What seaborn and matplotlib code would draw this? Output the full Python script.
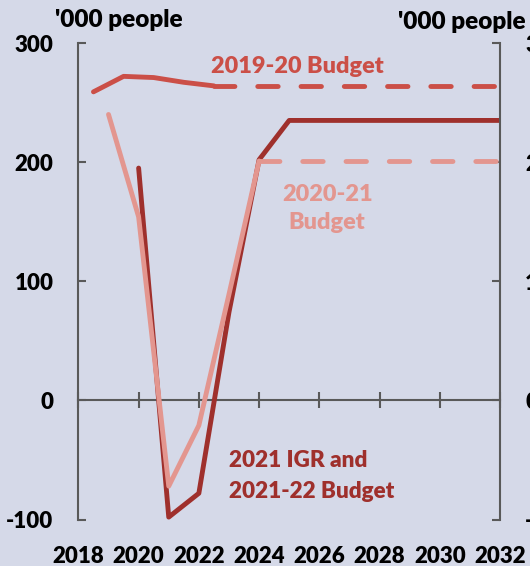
import matplotlib
matplotlib.use("Agg")
import matplotlib.pyplot as plt
import seaborn as sns

# Net overseas migration forecasts, '000 people
budget_1920_years = [2018.5, 2019.5, 2020.5, 2021.5, 2022.5]
budget_1920_values = [259, 272, 271, 267, 264]
budget_1920_proj_years = [2022.5, 2032]
budget_1920_proj_values = [264, 264]

budget_2021_years = [2019, 2020, 2021, 2022, 2023, 2024]
budget_2021_values = [240, 154, -72, -21, 89, 201]
budget_2021_proj_years = [2024, 2032]
budget_2021_proj_values = [201, 201]

igr_years = [2020, 2021, 2022, 2023, 2024, 2025, 2032]
igr_values = [195, -98, -78, 74, 202, 235, 235]

x_ticks = [2018, 2020, 2022, 2024, 2026, 2028, 2030, 2032]
y_ticks = [-100, 0, 100, 200, 300]

label_1920 = "2019-20 Budget"
label_2021 = "2020-21\nBudget"
label_igr = "2021 IGR and\n2021-22 Budget"
unit_label = "'000 people"

bg = "#d5d9e8"
c_1920 = "#cb4f47"
c_2021 = "#e3968f"
c_igr = "#9f302c"
axis_grey = "#595959"

sns.set_style("white", {"axes.facecolor": bg, "figure.facecolor": bg})
plt.rcParams["font.family"] = ["Lato", "DejaVu Sans"]
plt.rcParams["font.weight"] = "heavy"
plt.rcParams["axes.unicode_minus"] = False

fig = plt.figure(figsize=(5.3, 5.66), dpi=100)
ax = fig.add_axes([78.4 / 530, 46.5 / 566, (500 - 78.4) / 530, 476.5 / 566])

lw = 3.5
dash = (0, (4.2, 4.7))
common = dict(ax=ax, lw=lw, solid_capstyle="round", dash_capstyle="round")

sns.lineplot(x=budget_1920_years, y=budget_1920_values, color=c_1920, **common)
sns.lineplot(x=budget_1920_proj_years, y=budget_1920_proj_values, color=c_1920,
             linestyle=dash, **common)
sns.lineplot(x=igr_years, y=igr_values, color=c_igr, **common)
sns.lineplot(x=budget_2021_years, y=budget_2021_values, color=c_2021, **common)
sns.lineplot(x=budget_2021_proj_years, y=budget_2021_proj_values, color=c_2021,
             linestyle=dash, **common)

ax.set_xlim(2018, 2032)
ax.set_ylim(-100, 300)
ax.set_xticks(x_ticks)
ax.set_yticks(y_ticks)
ax.set_xlabel("")
ax.set_ylabel("")

for side in ("top", "bottom"):
    ax.spines[side].set_visible(False)
for side in ("left", "right"):
    ax.spines[side].set_visible(True)
    ax.spines[side].set_color(axis_grey)
    ax.spines[side].set_linewidth(1.5)

tick_font = 16
ax.tick_params(axis="x", length=0, pad=19, labelsize=tick_font, labelcolor="black")
ax.tick_params(axis="y", direction="in", length=6, width=1.5, color=axis_grey,
               left=True, right=True, labelleft=True, labelright=True,
               pad=18, labelsize=tick_font, labelcolor="black")

# zero line with crossing year ticks
zero_axis = ax.secondary_xaxis(0.25)
zero_axis.set_xticks(x_ticks)
zero_axis.tick_params(direction="inout", length=11, width=1.5, color=axis_grey,
                      labelbottom=False)
zero_axis.spines["bottom"].set_color(axis_grey)
zero_axis.spines["bottom"].set_linewidth(1.5)

ax.text(2025.28, 280, label_1920, ha="center", va="center", color=c_1920,
        fontsize=16.8, fontweight="heavy")
ax.text(2026.26, 161, label_2021, ha="center", va="center", color=c_2021,
        linespacing=1.42, fontsize=16.8, fontweight="heavy")
ax.text(2023.01, -63.5, label_igr, ha="left", va="center", color=c_igr,
        linespacing=1.6, fontsize=16.2, fontweight="heavy")

unit_kw = dict(fontsize=17.5, fontweight="heavy", color="black")
fig.text(55 / 530, 1 - 20 / 566, unit_label, ha="left", va="center", **unit_kw)
fig.text(398 / 530, 1 - 22 / 566, unit_label, ha="left", va="center", **unit_kw)

fig.savefig("out.png", dpi=100, facecolor=bg)
